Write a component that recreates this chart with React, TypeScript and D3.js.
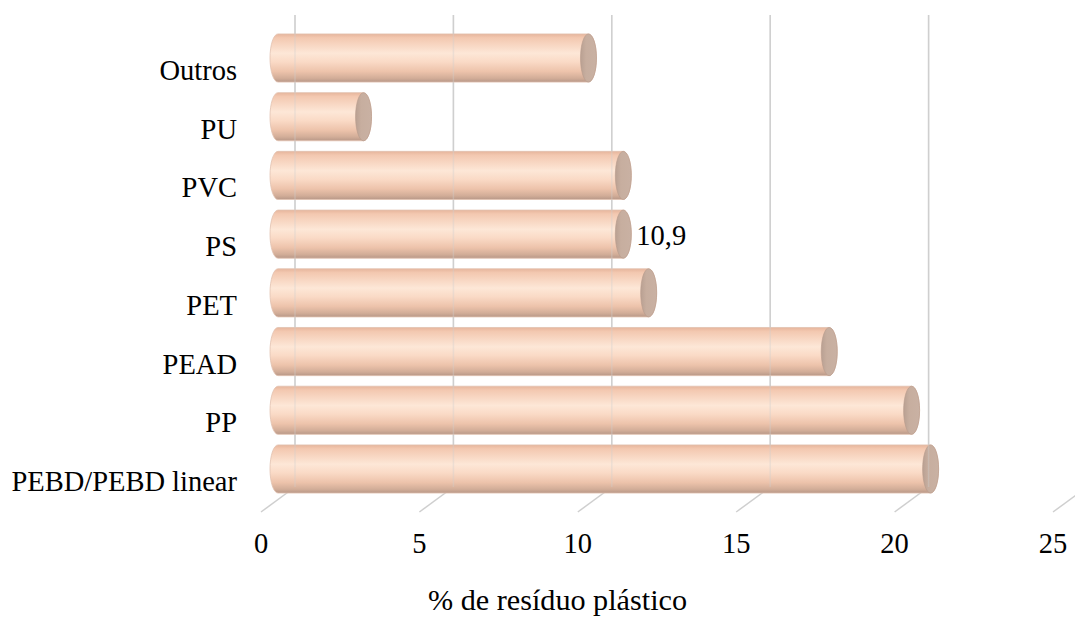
import React from "react";
import * as d3 from "d3";

// Plastic waste composition, top row to bottom row
const categories = ["Outros", "PU", "PVC", "PS", "PET", "PEAD", "PP", "PEBD/PEBD linear"];
const values = [9.8, 2.7, 10.9, 10.9, 11.7, 17.4, 20.0, 20.6];
const tickValues = [0, 5, 10, 15, 20, 25];
const labelledCategories = ["PS"];
const axisTitle = "% de resíduo plástico";

const W = 1075;
const H = 621;
const FONT = "'Liberation Serif', 'Times New Roman', serif";

// Oblique 3D: the back wall holds the gridlines, the front edge holds the tick labels
const depth = { dx: -34, dy: 25 };
const wallTop = 15;
const wallBottom = 487;
const xBack = d3.scaleLinear().domain([0, 25]).range([295, 1087]);
const xMid = (v: number) => xBack(v) + depth.dx / 2;
const xFront = (v: number) => xBack(v) + depth.dx;

const y = d3
  .scaleBand<string>()
  .domain(categories)
  .range([28.65, 498.35])
  .paddingInner(0.18)
  .paddingOuter(0.09);

const fmt = (v: number) => String(v).replace(".", ",");

export default function App() {
  const bw = y.bandwidth();
  const ry = bw / 2;
  const rx = 8;

  const gridLines = (opacity: number, key: string) => (
    <g key={key} stroke="#cfcfcf" strokeWidth={1.5} opacity={opacity} fill="none">
      {tickValues.map((t) => (
        <line key={t} x1={xBack(t)} x2={xBack(t)} y1={wallTop} y2={wallBottom} />
      ))}
    </g>
  );

  return (
    <svg
      width={W}
      height={H}
      viewBox={`0 0 ${W} ${H}`}
      style={{ position: "absolute", left: 0, top: 0, background: "#fff" }}
    >
      <defs>
        <linearGradient id="cyl" x1="0" y1="0" x2="0" y2="1">
          <stop offset="0%" stopColor="#e6b59c" />
          <stop offset="8%" stopColor="#f3c8b0" />
          <stop offset="40%" stopColor="#fde7d7" />
          <stop offset="58%" stopColor="#fadac6" />
          <stop offset="78%" stopColor="#edc3ab" />
          <stop offset="92%" stopColor="#d2ad98" />
          <stop offset="100%" stopColor="#b89888" />
        </linearGradient>
        <linearGradient id="cap" x1="0" y1="0" x2="1" y2="0">
          <stop offset="0%" stopColor="#b9a092" />
          <stop offset="35%" stopColor="#c7ae9f" />
          <stop offset="100%" stopColor="#c9b1a3" />
        </linearGradient>
      </defs>

      {/* back wall gridlines */}
      {gridLines(1, "grid-back")}

      {/* floor lines running to the front edge */}
      <g stroke="#cfcfcf" strokeWidth={1.5}>
        {tickValues.map((t) => (
          <line
            key={t}
            x1={xBack(t)}
            y1={wallBottom}
            x2={xFront(t)}
            y2={wallBottom + depth.dy}
          />
        ))}
      </g>

      {/* cylinders */}
      {categories.map((c, i) => {
        const cy = (y(c) as number) + ry;
        const x0 = xMid(0);
        const x1 = xMid(values[i]);
        const body = `M${x0},${cy - ry} L${x1},${cy - ry} A${rx},${ry} 0 0 1 ${x1},${cy + ry} L${x0},${cy + ry} A${rx},${ry} 0 0 1 ${x0},${cy - ry} Z`;
        return (
          <g key={c}>
            <path d={body} fill="url(#cyl)" stroke="#e2c2b0" strokeWidth={0.8} />
            <ellipse cx={x1} cy={cy} rx={rx} ry={ry} fill="url(#cap)" stroke="#b79b8c" strokeWidth={0.6} />
          </g>
        );
      })}

      {/* gridlines faintly visible through the bars */}
      {gridLines(0.35, "grid-front")}

      {/* value label */}
      {categories.map((c, i) =>
        labelledCategories.includes(c) ? (
          <text
            key={c}
            x={xMid(values[i]) + rx + 5}
            y={(y(c) as number) + ry + 11}
            fontFamily={FONT}
            fontSize={28.5}
            fill="#000"
          >
            {fmt(values[i])}
          </text>
        ) : null
      )}

      {/* category labels */}
      {categories.map((c) => (
        <text
          key={c}
          x={xFront(0) - 24}
          y={(y(c) as number) + ry + depth.dy / 2 + 9.5}
          textAnchor="end"
          fontFamily={FONT}
          fontSize={28.5}
          fill="#000"
        >
          {c}
        </text>
      ))}

      {/* value axis tick labels */}
      {tickValues.map((t) => (
        <text
          key={t}
          x={xFront(t)}
          y={553}
          textAnchor="middle"
          fontFamily={FONT}
          fontSize={28.5}
          fill="#000"
        >
          {t}
        </text>
      ))}

      <text x={557.5} y={610} textAnchor="middle" fontFamily={FONT} fontSize={30.2} fill="#000">
        {axisTitle}
      </text>
    </svg>
  );
}
